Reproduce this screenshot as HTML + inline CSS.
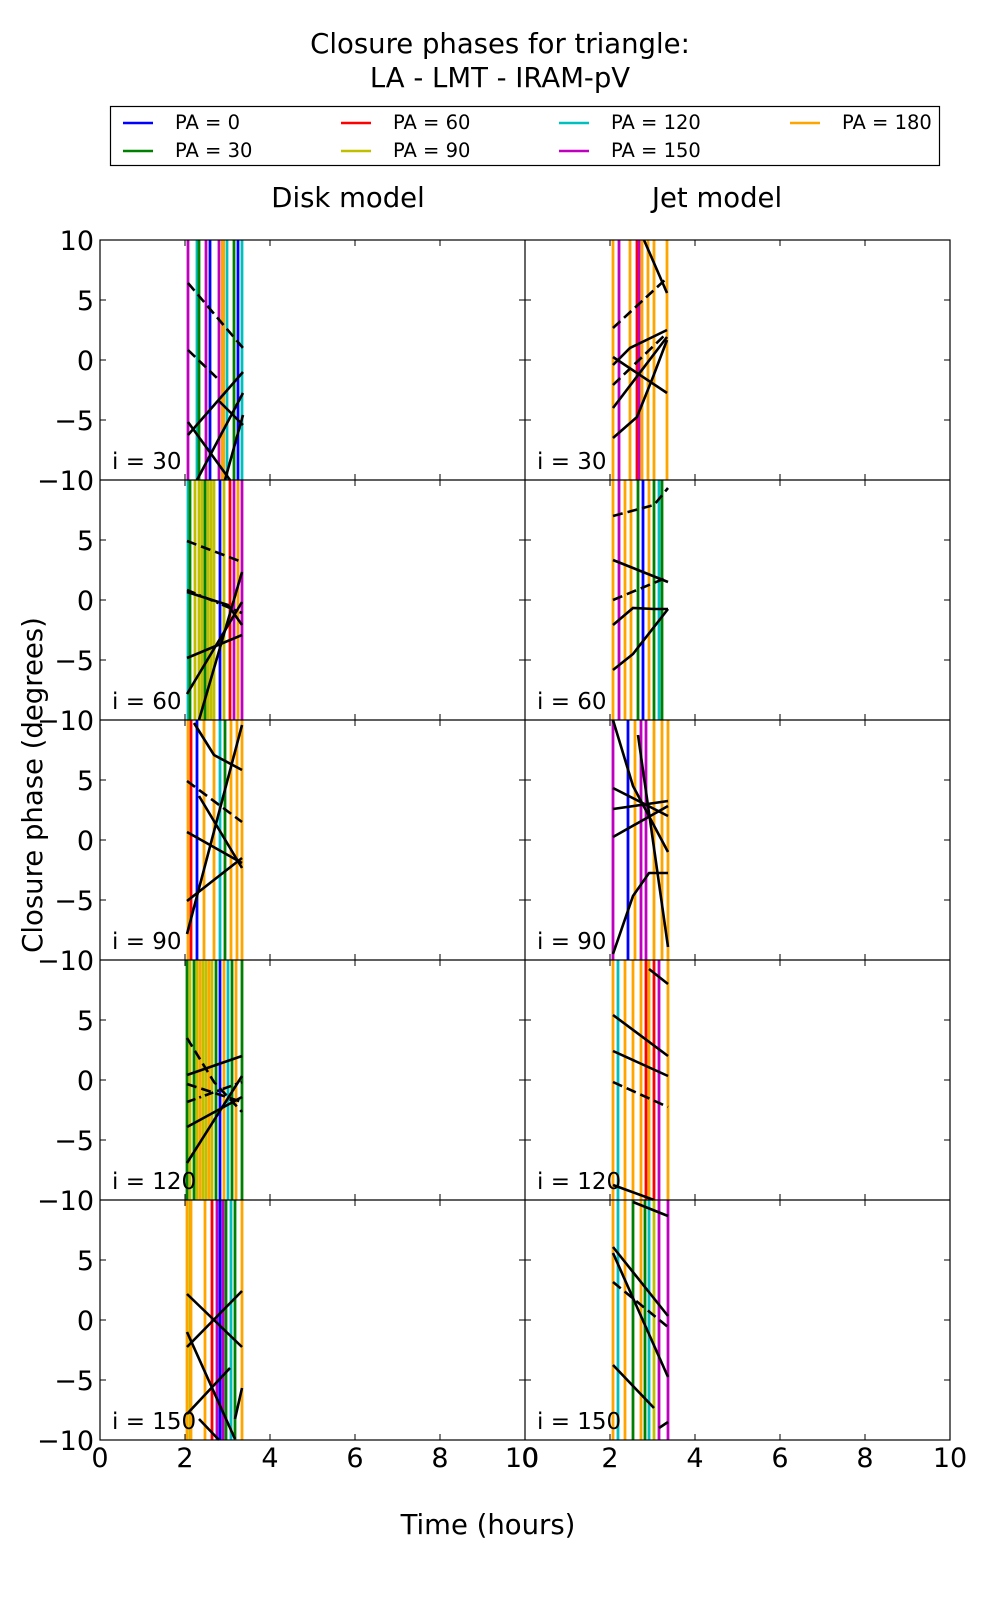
<!DOCTYPE html>
<html><head><meta charset="utf-8"><style>
html,body{margin:0;padding:0;background:#fff;}
svg{display:block;font-family:"DejaVu Sans","Liberation Sans",sans-serif;}
.v{stroke-width:2.8;}
.k{stroke:#000;stroke-width:2.6;fill:none;}
.d{stroke-dasharray:10,5;}
.dd{stroke-dasharray:9,4,2,4;}
.b{stroke:#0000ff}.g{stroke:#008000}.r{stroke:#ff0000}.y{stroke:#bfbf00}.c{stroke:#00bfbf}.m{stroke:#bf00bf}.o{stroke:#ffa500}
</style></head><body>
<svg width="1000" height="1600" viewBox="0 0 1000 1600">
<text x="500" y="53" font-size="27.5" text-anchor="middle">Closure phases for triangle:</text>
<text x="500" y="87" font-size="27.5" text-anchor="middle">LA - LMT - IRAM-pV</text>
<rect x="110.5" y="106.5" width="829" height="59" fill="#fff" stroke="#000" stroke-width="1.2"/>
<g stroke-width="2.5">
<line x1="123" y1="123" x2="153" y2="123" stroke="#0000ff"/><text x="175" y="129" font-size="19.5">PA = 0</text>
<line x1="123" y1="151" x2="153" y2="151" stroke="#008000"/><text x="175" y="157" font-size="19.5">PA = 30</text>
<line x1="341" y1="123" x2="371" y2="123" stroke="#ff0000"/><text x="393" y="129" font-size="19.5">PA = 60</text>
<line x1="341" y1="151" x2="371" y2="151" stroke="#bfbf00"/><text x="393" y="157" font-size="19.5">PA = 90</text>
<line x1="559" y1="123" x2="589" y2="123" stroke="#00bfbf"/><text x="611" y="129" font-size="19.5">PA = 120</text>
<line x1="559" y1="151" x2="589" y2="151" stroke="#bf00bf"/><text x="611" y="157" font-size="19.5">PA = 150</text>
<line x1="790" y1="123" x2="820" y2="123" stroke="#ffa500"/><text x="842" y="129" font-size="19.5">PA = 180</text>
</g>
<text x="348" y="207" font-size="27.5" text-anchor="middle">Disk model</text>
<text x="717" y="207" font-size="27.5" text-anchor="middle">Jet model</text>

<g transform="translate(100,240)">
<line class="v m" x1="88" y1="0" x2="88" y2="240"/><line class="v c" x1="97" y1="0" x2="97" y2="240"/><line class="v g" x1="99" y1="0" x2="99" y2="240"/><line class="v m" x1="106" y1="0" x2="106" y2="240"/><line class="v b" x1="110" y1="0" x2="110" y2="240"/><line class="v m" x1="119" y1="0" x2="119" y2="240"/><line class="v o" x1="123" y1="0" x2="123" y2="240" style="stroke-width:4"/><line class="v c" x1="127" y1="0" x2="127" y2="240"/><line class="v g" x1="134" y1="0" x2="134" y2="240"/><line class="v b" x1="138" y1="0" x2="138" y2="240"/><line class="v c" x1="142" y1="0" x2="142" y2="240"/>
<polyline class="k d" points="88,43 143,108"/><polyline class="k d" points="88,110 117,138"/><polyline class="k" points="88,195 143,132"/><polyline class="k" points="88,182 130,240"/><polyline class="k" points="97,240 143,153"/><polyline class="k" points="125,240 143,175"/><polyline class="k" points="118,160 143,185"/>
<text x="12" y="229" font-size="23">i = 30</text>
</g>
<g transform="translate(525,240)">
<line class="v o" x1="88" y1="0" x2="88" y2="240"/><line class="v m" x1="94" y1="0" x2="94" y2="240"/><line class="v o" x1="105" y1="0" x2="105" y2="240"/><line class="v r" x1="112" y1="0" x2="112" y2="240"/><line class="v m" x1="114" y1="0" x2="114" y2="240"/><line class="v o" x1="117" y1="0" x2="117" y2="240"/><line class="v o" x1="123" y1="0" x2="123" y2="240"/><line class="v o" x1="129" y1="0" x2="129" y2="240"/><line class="v o" x1="142" y1="0" x2="142" y2="240"/>
<polyline class="k" points="119,0 142,53"/><polyline class="k d" points="88,88 142,38"/><polyline class="k" points="88,117 142,153"/><polyline class="k" points="88,125 105,108 142,90"/><polyline class="k d" points="88,145 142,93"/><polyline class="k" points="88,168 142,97"/><polyline class="k" points="88,198 112,177 128,137 142,100"/>
<text x="12" y="229" font-size="23">i = 30</text>
</g>
<g transform="translate(100,480)">
<line class="v c" x1="88" y1="0" x2="88" y2="240"/><line class="v g" x1="90" y1="0" x2="90" y2="240"/><line class="v y" x1="95" y1="0" x2="95" y2="240"/><line class="v y" x1="99" y1="0" x2="99" y2="240"/><line class="v y" x1="102" y1="0" x2="102" y2="240"/><line class="v g" x1="105" y1="0" x2="105" y2="240"/><line class="v y" x1="108" y1="0" x2="108" y2="240"/><line class="v y" x1="111" y1="0" x2="111" y2="240"/><line class="v y" x1="114" y1="0" x2="114" y2="240"/><line class="v b" x1="120" y1="0" x2="120" y2="240"/><line class="v y" x1="124" y1="0" x2="124" y2="240"/><line class="v r" x1="130" y1="0" x2="130" y2="240"/><line class="v m" x1="134" y1="0" x2="134" y2="240"/><line class="v o" x1="138" y1="0" x2="138" y2="240"/><line class="v m" x1="142" y1="0" x2="142" y2="240"/>
<polyline class="k d" points="87,61 142,82"/><polyline class="k dd" points="87,110 142,133"/><polyline class="k" points="87,112 128,125 142,145"/><polyline class="k" points="87,178 142,155"/><polyline class="k" points="87,214 142,122"/><polyline class="k" points="99,240 142,92"/>
<text x="12" y="229" font-size="23">i = 60</text>
</g>
<g transform="translate(525,480)">
<line class="v o" x1="88" y1="0" x2="88" y2="240"/><line class="v m" x1="94" y1="0" x2="94" y2="240"/><line class="v o" x1="100" y1="0" x2="100" y2="240"/><line class="v o" x1="106" y1="0" x2="106" y2="240"/><line class="v g" x1="113" y1="0" x2="113" y2="240"/><line class="v b" x1="118" y1="0" x2="118" y2="240"/><line class="v o" x1="124" y1="0" x2="124" y2="240"/><line class="v g" x1="129" y1="0" x2="129" y2="240"/><line class="v c" x1="134" y1="0" x2="134" y2="240"/><line class="v g" x1="137" y1="0" x2="137" y2="240"/>
<polyline class="k d" points="88,36 129,25 143,8"/><polyline class="k" points="88,80 143,102"/><polyline class="k" points="88,145 108,128 129,129 143,129"/><polyline class="k d" points="88,120 143,97"/><polyline class="k" points="88,190 108,174 143,129"/>
<text x="12" y="229" font-size="23">i = 60</text>
</g>
<g transform="translate(100,720)">
<line class="v o" x1="88" y1="0" x2="88" y2="240"/><line class="v r" x1="91" y1="0" x2="91" y2="240"/><line class="v b" x1="97" y1="0" x2="97" y2="240"/><line class="v o" x1="104" y1="0" x2="104" y2="240"/><line class="v o" x1="114" y1="0" x2="114" y2="240"/><line class="v c" x1="120" y1="0" x2="120" y2="240"/><line class="v g" x1="125" y1="0" x2="125" y2="240"/><line class="v o" x1="131" y1="0" x2="131" y2="240"/><line class="v o" x1="137" y1="0" x2="137" y2="240"/><line class="v o" x1="142" y1="0" x2="142" y2="240"/>
<polyline class="k" points="94,3 114,35 142,50"/><polyline class="k d" points="87,61 142,102"/><polyline class="k" points="87,112 142,143"/><polyline class="k" points="87,181 142,138"/><polyline class="k" points="87,214 142,5"/><polyline class="k" points="99,76 142,148"/>
<text x="12" y="229" font-size="23">i = 90</text>
</g>
<g transform="translate(525,720)">
<line class="v m" x1="88" y1="0" x2="88" y2="240"/><line class="v b" x1="103" y1="0" x2="103" y2="240"/><line class="v o" x1="110" y1="0" x2="110" y2="240"/><line class="v m" x1="116" y1="0" x2="116" y2="240"/><line class="v m" x1="121" y1="0" x2="121" y2="240"/><line class="v o" x1="129" y1="0" x2="129" y2="240"/><line class="v o" x1="137" y1="0" x2="137" y2="240"/><line class="v o" x1="143" y1="0" x2="143" y2="240"/>
<polyline class="k" points="88,0 108,66 143,132"/><polyline class="k" points="88,68 143,96"/><polyline class="k" points="88,89 143,81"/><polyline class="k" points="88,117 143,86"/><polyline class="k" points="88,234 108,176 124,153 143,153"/><polyline class="k" points="113,15 143,227"/>
<text x="12" y="229" font-size="23">i = 90</text>
</g>
<g transform="translate(100,960)">
<line class="v g" x1="87" y1="0" x2="87" y2="240"/><line class="v y" x1="90" y1="0" x2="90" y2="240"/><line class="v g" x1="94" y1="0" x2="94" y2="240"/><line class="v y" x1="97" y1="0" x2="97" y2="240"/><line class="v o" x1="100" y1="0" x2="100" y2="240"/><line class="v y" x1="103" y1="0" x2="103" y2="240"/><line class="v y" x1="106" y1="0" x2="106" y2="240"/><line class="v o" x1="109" y1="0" x2="109" y2="240"/><line class="v y" x1="112" y1="0" x2="112" y2="240"/><line class="v g" x1="116" y1="0" x2="116" y2="240"/><line class="v b" x1="120" y1="0" x2="120" y2="240"/><line class="v o" x1="124" y1="0" x2="124" y2="240"/><line class="v c" x1="128" y1="0" x2="128" y2="240"/><line class="v g" x1="132" y1="0" x2="132" y2="240"/><line class="v o" x1="136" y1="0" x2="136" y2="240"/><line class="v g" x1="142" y1="0" x2="142" y2="240"/>
<polyline class="k" points="87,115 142,96"/><polyline class="k d" points="87,78 114,122 142,152"/><polyline class="k d" points="87,124 142,142"/><polyline class="k dd" points="87,142 142,122"/><polyline class="k" points="87,167 142,137"/><polyline class="k" points="87,203 142,116"/>
<text x="12" y="229" font-size="23">i = 120</text>
</g>
<g transform="translate(525,960)">
<line class="v o" x1="88" y1="0" x2="88" y2="240"/><line class="v c" x1="93" y1="0" x2="93" y2="240"/><line class="v o" x1="100" y1="0" x2="100" y2="240"/><line class="v o" x1="108" y1="0" x2="108" y2="240"/><line class="v o" x1="116" y1="0" x2="116" y2="240"/><line class="v r" x1="121" y1="0" x2="121" y2="240"/><line class="v o" x1="124" y1="0" x2="124" y2="240"/><line class="v r" x1="129" y1="0" x2="129" y2="240"/><line class="v m" x1="134" y1="0" x2="134" y2="240"/><line class="v o" x1="143" y1="0" x2="143" y2="240"/>
<polyline class="k" points="88,55 143,96"/><polyline class="k" points="88,91 143,116"/><polyline class="k d" points="88,122 143,147"/><polyline class="k" points="88,225 129,240"/><polyline class="k" points="124,9 143,24"/>
<text x="12" y="229" font-size="23">i = 120</text>
</g>
<g transform="translate(100,1200)">
<line class="v o" x1="87" y1="0" x2="87" y2="240"/><line class="v y" x1="90" y1="0" x2="90" y2="240"/><line class="v o" x1="91" y1="0" x2="91" y2="240"/><line class="v o" x1="105" y1="0" x2="105" y2="240"/><line class="v r" x1="112" y1="0" x2="112" y2="240"/><line class="v m" x1="117" y1="0" x2="117" y2="240"/><line class="v b" x1="120" y1="0" x2="120" y2="240"/><line class="v m" x1="123" y1="0" x2="123" y2="240"/><line class="v g" x1="126" y1="0" x2="126" y2="240"/><line class="v c" x1="131" y1="0" x2="131" y2="240"/><line class="v g" x1="135" y1="0" x2="135" y2="240"/><line class="v o" x1="142" y1="0" x2="142" y2="240"/>
<polyline class="k" points="87,94 142,147"/><polyline class="k" points="87,147 142,91"/><polyline class="k" points="87,132 135,239"/><polyline class="k" points="87,214 130,168"/><polyline class="k" points="135,219 142,188"/><polyline class="k" points="99,219 119,240"/>
<text x="12" y="229" font-size="23">i = 150</text>
</g>
<g transform="translate(525,1200)">
<line class="v o" x1="88" y1="0" x2="88" y2="240"/><line class="v c" x1="93" y1="0" x2="93" y2="240"/><line class="v o" x1="100" y1="0" x2="100" y2="240"/><line class="v g" x1="108" y1="0" x2="108" y2="240"/><line class="v o" x1="116" y1="0" x2="116" y2="240"/><line class="v g" x1="120" y1="0" x2="120" y2="240"/><line class="v c" x1="124" y1="0" x2="124" y2="240"/><line class="v y" x1="129" y1="0" x2="129" y2="240"/><line class="v m" x1="134" y1="0" x2="134" y2="240"/><line class="v m" x1="143" y1="0" x2="143" y2="240"/>
<polyline class="k" points="108,2 143,16"/><polyline class="k" points="88,47 143,116"/><polyline class="k" points="88,53 143,177"/><polyline class="k d" points="88,82 143,127"/><polyline class="k" points="88,165 129,208"/><polyline class="k" points="134,228 143,222"/>
<text x="12" y="229" font-size="23">i = 150</text>
</g>

<g fill="none" stroke="#000" stroke-width="1.2">
<rect x="100" y="240" width="850" height="1200"/>
<line x1="525" y1="240" x2="525" y2="1440"/>
<line x1="100" y1="480" x2="950" y2="480"/><line x1="100" y1="720" x2="950" y2="720"/><line x1="100" y1="960" x2="950" y2="960"/><line x1="100" y1="1200" x2="950" y2="1200"/>
</g>
<path stroke="#000" stroke-width="1" fill="none" d="
M185,240v6M270,240v6M355,240v6M440,240v6M610,240v6M695,240v6M780,240v6M865,240v6
M185,1440v-6M270,1440v-6M355,1440v-6M440,1440v-6M610,1440v-6M695,1440v-6M780,1440v-6M865,1440v-6
M185,480v6M270,480v6M355,480v6M440,480v6M610,480v6M695,480v6M780,480v6M865,480v6M185,480v-6M270,480v-6M355,480v-6M440,480v-6M610,480v-6M695,480v-6M780,480v-6M865,480v-6
M185,720v6M270,720v6M355,720v6M440,720v6M610,720v6M695,720v6M780,720v6M865,720v6M185,720v-6M270,720v-6M355,720v-6M440,720v-6M610,720v-6M695,720v-6M780,720v-6M865,720v-6
M185,960v6M270,960v6M355,960v6M440,960v6M610,960v6M695,960v6M780,960v6M865,960v6M185,960v-6M270,960v-6M355,960v-6M440,960v-6M610,960v-6M695,960v-6M780,960v-6M865,960v-6
M185,1200v6M270,1200v6M355,1200v6M440,1200v6M610,1200v6M695,1200v6M780,1200v6M865,1200v6M185,1200v-6M270,1200v-6M355,1200v-6M440,1200v-6M610,1200v-6M695,1200v-6M780,1200v-6M865,1200v-6
M100,300h6M100,360h6M100,420h6M100,540h6M100,600h6M100,660h6M100,780h6M100,840h6M100,900h6M100,1020h6M100,1080h6M100,1140h6M100,1260h6M100,1320h6M100,1380h6
M525,300h6M525,360h6M525,420h6M525,540h6M525,600h6M525,660h6M525,780h6M525,840h6M525,900h6M525,1020h6M525,1080h6M525,1140h6M525,1260h6M525,1320h6M525,1380h6
M525,300h-6M525,360h-6M525,420h-6M525,540h-6M525,600h-6M525,660h-6M525,780h-6M525,840h-6M525,900h-6M525,1020h-6M525,1080h-6M525,1140h-6M525,1260h-6M525,1320h-6M525,1380h-6
M950,300h-6M950,360h-6M950,420h-6M950,540h-6M950,600h-6M950,660h-6M950,780h-6M950,840h-6M950,900h-6M950,1020h-6M950,1080h-6M950,1140h-6M950,1260h-6M950,1320h-6M950,1380h-6"/>
<g font-size="27" text-anchor="end">
<text x="94" y="250">10</text><text x="94" y="310">5</text><text x="94" y="370">0</text><text x="94" y="430">−5</text><text x="94" y="490">−10</text>
<text x="94" y="550">5</text><text x="94" y="610">0</text><text x="94" y="670">−5</text><text x="94" y="730">−10</text>
<text x="94" y="790">5</text><text x="94" y="850">0</text><text x="94" y="910">−5</text><text x="94" y="970">−10</text>
<text x="94" y="1030">5</text><text x="94" y="1090">0</text><text x="94" y="1150">−5</text><text x="94" y="1210">−10</text>
<text x="94" y="1270">5</text><text x="94" y="1330">0</text><text x="94" y="1390">−5</text><text x="94" y="1450">−10</text>
</g>
<g font-size="27" text-anchor="middle">
<text x="100" y="1467">0</text><text x="185" y="1467">2</text><text x="270" y="1467">4</text><text x="355" y="1467">6</text><text x="440" y="1467">8</text><text x="522" y="1467">10</text>
<text x="530" y="1467">0</text><text x="610" y="1467">2</text><text x="695" y="1467">4</text><text x="780" y="1467">6</text><text x="865" y="1467">8</text><text x="950" y="1467">10</text>
</g>
<text x="488" y="1534" font-size="27.5" text-anchor="middle">Time (hours)</text>
<text transform="translate(42,785) rotate(-90)" font-size="27.5" text-anchor="middle">Closure phase (degrees)</text>
</svg>
</body></html>
